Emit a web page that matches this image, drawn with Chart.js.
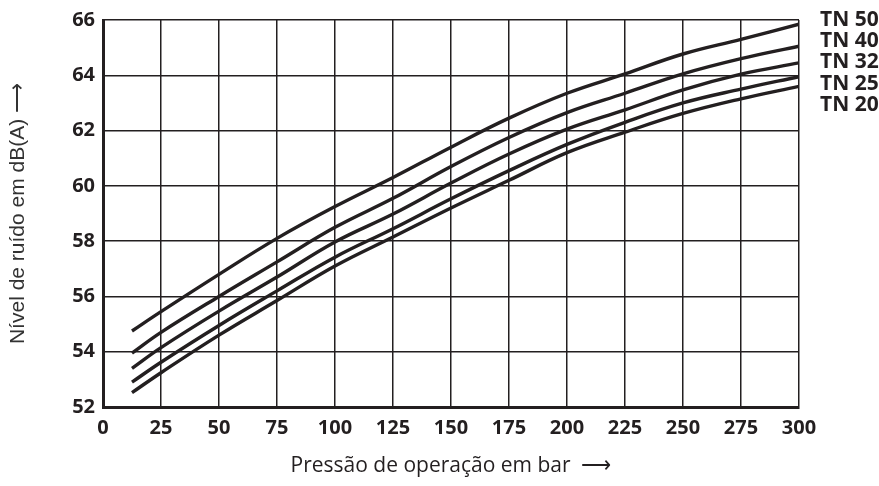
<!DOCTYPE html>
<html>
<head>
<meta charset="utf-8">
<script src="https://cdn.jsdelivr.net/npm/chart.js@4/dist/chart.umd.min.js"></script>
<style>
  html, body { margin: 0; padding: 0; background: #fff; }
  #wrap { position: relative; width: 879px; height: 486px; }
</style>
</head>
<body>
<div id="wrap"><canvas id="noiseChart"></canvas></div>
<script>
const pressure = [12.5, 25, 50, 75, 100, 125, 150, 175, 200, 225, 250, 275, 300];

// Noise level in dB(A) per pump size
const seriesNames = ['TN 50', 'TN 40', 'TN 32', 'TN 25', 'TN 20'];
const tn50 = [54.75, 55.45, 56.8, 58.1, 59.25, 60.3, 61.4, 62.45, 63.35, 64.05, 64.77, 65.3, 65.85];
const tn40 = [53.95, 54.7, 56.0, 57.25, 58.5, 59.55, 60.7, 61.75, 62.65, 63.35, 64.05, 64.6, 65.05];
const tn32 = [53.4, 54.15, 55.47, 56.7, 57.97, 58.98, 60.1, 61.15, 62.05, 62.75, 63.47, 64.04, 64.45];
const tn25 = [52.9, 53.62, 54.95, 56.2, 57.42, 58.45, 59.53, 60.55, 61.5, 62.3, 63.0, 63.5, 63.95];
const tn20 = [52.52, 53.24, 54.6, 55.85, 57.1, 58.15, 59.2, 60.2, 61.2, 61.94, 62.62, 63.15, 63.6];

// Tick labels
const xTicks = [0, 25, 50, 75, 100, 125, 150, 175, 200, 225, 250, 275, 300];
const yTicks = [52, 54, 56, 58, 60, 62, 64, 66];

const ink = '#231f20';

function toPoints(values) {
    return values.map((v, i) => ({ x: pressure[i], y: v }));
}

// Draws the "TN xx" names stacked to the right of the plot
const seriesLabels = {
    id: 'seriesLabels',
    afterDatasetsDraw(chart) {
        const { ctx, chartArea } = chart;
        ctx.save();
        ctx.font = 'bold 21px "Open Sans"';
        ctx.fillStyle = ink;
        ctx.textAlign = 'left';
        ctx.textBaseline = 'middle';
        chart.data.datasets.forEach((ds, i) => {
            ctx.fillText(ds.label, chartArea.right + 21, chartArea.top + 21.2 * i);
        });
        ctx.restore();
    }
};

const allSeries = [tn50, tn40, tn32, tn25, tn20];

new Chart(document.getElementById('noiseChart'), {
    type: 'line',
    data: {
        datasets: allSeries.map((values, i) => ({
            label: seriesNames[i],
            data: toPoints(values),
            borderColor: ink,
            borderWidth: 3.4,
            pointRadius: 0,
            fill: false,
            tension: 0.4
        }))
    },
    options: {
        responsive: true,
        maintainAspectRatio: false,
        animation: false,
        layout: { padding: { top: 20, right: 80, bottom: 0, left: 0 } },
        plugins: {
            legend: { display: false },
            tooltip: { enabled: false }
        },
        scales: {
            x: {
                type: 'linear',
                min: 0,
                max: 300,
                afterBuildTicks: (scale) => { scale.ticks = xTicks.map(v => ({ value: v })); },
                afterFit: (scale) => { scale.height = 79; },
                ticks: {
                    color: ink,
                    padding: 9,
                    maxRotation: 0,
                    autoSkip: false,
                    font: { family: '"Open Sans"', size: 20, weight: 'bold' }
                },
                grid: { color: ink, lineWidth: 1.5, drawTicks: false },
                border: { color: ink, width: 3 },
                title: {
                    display: true,
                    text: 'Pressão de operação em bar  ⟶',
                    color: ink,
                    padding: { top: 0, bottom: 7 },
                    font: { family: '"Open Sans"', size: 21, weight: 'normal' }
                }
            },
            y: {
                min: 52,
                max: 66,
                afterBuildTicks: (scale) => { scale.ticks = yTicks.map(v => ({ value: v })); },
                afterFit: (scale) => { scale.width = 103; },
                ticks: {
                    color: ink,
                    padding: 8,
                    font: { family: '"Open Sans"', size: 20, weight: 'bold' }
                },
                grid: { color: ink, lineWidth: 1.5, drawTicks: false },
                border: { color: ink, width: 3 },
                title: {
                    display: true,
                    text: 'Nível de ruído em dB(A) ⟶',
                    color: '#333333',
                    padding: { top: 6, bottom: 0 },
                    font: { family: '"Liberation Sans"', size: 21, weight: 'normal' }
                }
            }
        }
    },
    plugins: [seriesLabels]
});
</script>
</body>
</html>
